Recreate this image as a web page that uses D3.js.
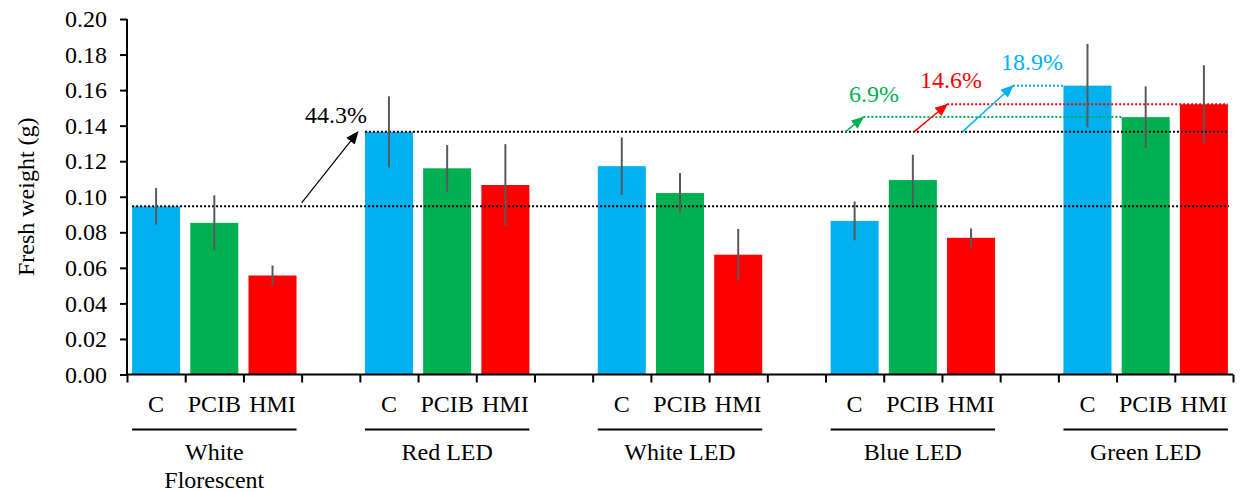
<!DOCTYPE html>
<html>
<head>
<meta charset="utf-8">
<script src="https://cdn.jsdelivr.net/npm/d3@7"></script>
<style>
  html, body { margin: 0; padding: 0; background: #fff; }
  svg { display: block; }
  svg text { font-family: "Liberation Serif", "Times New Roman", Times, "DejaVu Serif", serif; }
</style>
</head>
<body>
<svg id="chart" width="1243" height="492"></svg>
<script>
// Light conditions and treatments
const groups = ["White\nFlorescent", "Red LED", "White LED", "Blue LED", "Green LED"];
const treatments = ["C", "PCIB", "HMI"];
const colors = ["#00B0F0", "#00B050", "#FF0000"];

// Fresh weight (g), one array per treatment, ordered like groups
const valuesC    = [0.0946, 0.1365, 0.1172, 0.0864, 0.1625];
const valuesPCIB = [0.0853, 0.1160, 0.1021, 0.1094, 0.1448];
const valuesHMI  = [0.0557, 0.1066, 0.0674, 0.0769, 0.1520];

// Standard errors
const errC    = [0.0103, 0.0200, 0.0162, 0.0109, 0.0235];
const errPCIB = [0.0155, 0.0131, 0.0112, 0.0143, 0.0173];
const errHMI  = [0.0056, 0.0230, 0.0145, 0.0053, 0.0220];

const yTicks = [0, 0.02, 0.04, 0.06, 0.08, 0.10, 0.12, 0.14, 0.16, 0.18, 0.20];

// Percentage annotations
const pctLabels = ["44.3%", "6.9%", "14.6%", "18.9%"];

(function () {
const FONT = "Liberation Serif, Times New Roman, Times, DejaVu Serif, serif";
const svg = d3.select("#chart");
const plotL = 127, plotR = 1233, plotT = 19, plotB = 374.5;

// 5 groups x 3 bars, with one empty slot between groups
const nSlots = groups.length * 4 - 1;
const slot = d3.scaleLinear().domain([0, nSlots]).range([plotL, plotR]);
const step = slot(1) - slot(0);
const barW = step * 0.825;

const y = d3.scaleLinear().domain([0, 0.2]).range([plotB, plotT]);

const series = [valuesC, valuesPCIB, valuesHMI];
const errs = [errC, errPCIB, errHMI];
const bars = [];
groups.forEach((g, gi) => {
  treatments.forEach((t, ti) => {
    bars.push({ group: gi, t: ti, slot: gi * 4 + ti, v: series[ti][gi], e: errs[ti][gi] });
  });
});
const barX = d => slot(d.slot) + (step - barW) / 2;
const barCx = d => slot(d.slot + 0.5);
const find = (gi, ti) => bars.find(b => b.group === gi && b.t === ti);

// Bars
svg.append("g").selectAll("rect").data(bars).join("rect")
  .attr("x", barX)
  .attr("y", d => y(d.v))
  .attr("width", barW)
  .attr("height", d => y(0) - y(d.v))
  .attr("fill", d => colors[d.t]);

// Reference lines (dotted)
const wfC = find(0, 0), redC = find(1, 0);
const gC = find(4, 0), gP = find(4, 1), gH = find(4, 2);
const refLines = [
  { x1: barX(wfC), x2: plotR - 4, v: wfC.v, c: "#000" },
  { x1: barX(redC), x2: plotR - 4, v: redC.v, c: "#000" },
  { x1: slot(12.65), x2: barX(gP), v: gP.v, c: colors[1] },
  { x1: slot(14.09), x2: barX(gH) + barW, v: gH.v, c: colors[2] },
  { x1: slot(15.22), x2: barX(gC), v: gC.v, c: colors[0] }
];
svg.append("g").selectAll("line").data(refLines).join("line")
  .attr("x1", d => d.x1).attr("x2", d => d.x2)
  .attr("y1", d => y(d.v)).attr("y2", d => y(d.v))
  .attr("stroke", d => d.c)
  .attr("stroke-width", 2)
  .attr("stroke-dasharray", "2,2");

// Error bars
svg.append("g").selectAll("line").data(bars).join("line")
  .attr("x1", barCx).attr("x2", barCx)
  .attr("y1", d => y(d.v + d.e)).attr("y2", d => y(d.v - d.e))
  .attr("stroke", "#595959")
  .attr("stroke-width", 2);

// Arrow markers
const defs = svg.append("defs");
const arrowColors = ["#000", colors[1], colors[2], colors[0]];
arrowColors.forEach((c, i) => {
  defs.append("marker")
    .attr("id", "arrow" + i)
    .attr("viewBox", "0 0 12 10")
    .attr("refX", 11).attr("refY", 5)
    .attr("markerWidth", 13).attr("markerHeight", 11)
    .attr("markerUnits", "userSpaceOnUse")
    .attr("orient", "auto")
    .append("path").attr("d", "M0,0 L12,5 L0,10 Z").attr("fill", c);
});

const arrows = [
  { x1: slot(3.0), v1: wfC.v + 0.002, x2: barX(redC) - 7, v2: redC.v, c: 0 },
  { x1: slot(12.34), v1: redC.v, x2: slot(12.65), v2: gP.v, c: 1 },
  { x1: slot(13.52), v1: redC.v, x2: slot(14.09), v2: gH.v, c: 2 },
  { x1: slot(14.35), v1: redC.v, x2: slot(15.22), v2: gC.v, c: 3 }
];
svg.append("g").selectAll("line").data(arrows).join("line")
  .attr("x1", d => d.x1).attr("y1", d => y(d.v1))
  .attr("x2", d => d.x2).attr("y2", d => y(d.v2))
  .attr("stroke", d => arrowColors[d.c])
  .attr("stroke-width", d => d.c === 0 ? 1.2 : 1.4)
  .attr("marker-end", d => `url(#arrow${d.c})`);

// Percentage labels
const labelPos = [
  { x: 305, y: 123 }, { x: 849, y: 102 }, { x: 920, y: 88 }, { x: 1001, y: 70 }
];
svg.append("g").selectAll("text").data(pctLabels).join("text")
  .attr("x", (d, i) => labelPos[i].x)
  .attr("y", (d, i) => labelPos[i].y)
  .attr("fill", (d, i) => arrowColors[i])
  .attr("font-family", FONT)
  .attr("font-size", 24)
  .text(d => d);

// Y axis
const yAxis = svg.append("g")
  .attr("transform", `translate(${plotL},0)`)
  .call(d3.axisLeft(y).tickValues(yTicks).tickFormat(d3.format(".2f")).tickSize(7).tickPadding(13))
  .attr("font-family", FONT);
yAxis.select(".domain").attr("stroke", "#000").attr("stroke-width", 2).attr("d", `M0,${plotT}V${plotB}`);
yAxis.selectAll(".tick line").attr("stroke", "#000").attr("stroke-width", 2);
yAxis.selectAll(".tick text")
  .attr("font-family", FONT)
  .attr("font-size", 24).attr("fill", "#000");

// X axis: ticks at slot boundaries
const xAxis = svg.append("g")
  .attr("transform", `translate(0,${plotB})`)
  .call(d3.axisBottom(slot).tickValues(d3.range(0, nSlots + 1)).tickFormat("").tickSize(8));
xAxis.select(".domain").attr("stroke", "#000").attr("stroke-width", 2).attr("d", `M${plotL},0H${plotR}`);
xAxis.selectAll(".tick line").attr("stroke", "#000").attr("stroke-width", 2);

// Treatment labels
svg.append("g").selectAll("text").data(bars).join("text")
  .attr("x", barCx)
  .attr("y", 412)
  .attr("text-anchor", "middle")
  .attr("font-family", FONT)
  .attr("font-size", 24)
  .attr("fill", "#000")
  .text(d => treatments[d.t]);

// Group underline and names
groups.forEach((g, gi) => {
  const first = find(gi, 0), last = find(gi, 2);
  const x1 = barX(first), x2 = barX(last) + barW;
  svg.append("line")
    .attr("x1", x1).attr("x2", x2).attr("y1", 429.5).attr("y2", 429.5)
    .attr("stroke", "#000").attr("stroke-width", 2);
  const t = svg.append("text")
    .attr("x", (x1 + x2) / 2).attr("y", 460)
    .attr("text-anchor", "middle")
    .attr("font-family", FONT)
    .attr("font-size", 24).attr("fill", "#000");
  g.split("\n").forEach((line, li) => {
    t.append("tspan").attr("x", (x1 + x2) / 2).attr("dy", li === 0 ? 0 : 28).text(line);
  });
});

// Y axis title
svg.append("text")
  .attr("transform", `translate(34,${(plotT + plotB) / 2}) rotate(-90)`)
  .attr("text-anchor", "middle")
  .attr("font-family", FONT)
  .attr("font-size", 24)
  .attr("fill", "#000")
  .text("Fresh weight (g)");
})();
</script>
</body>
</html>
